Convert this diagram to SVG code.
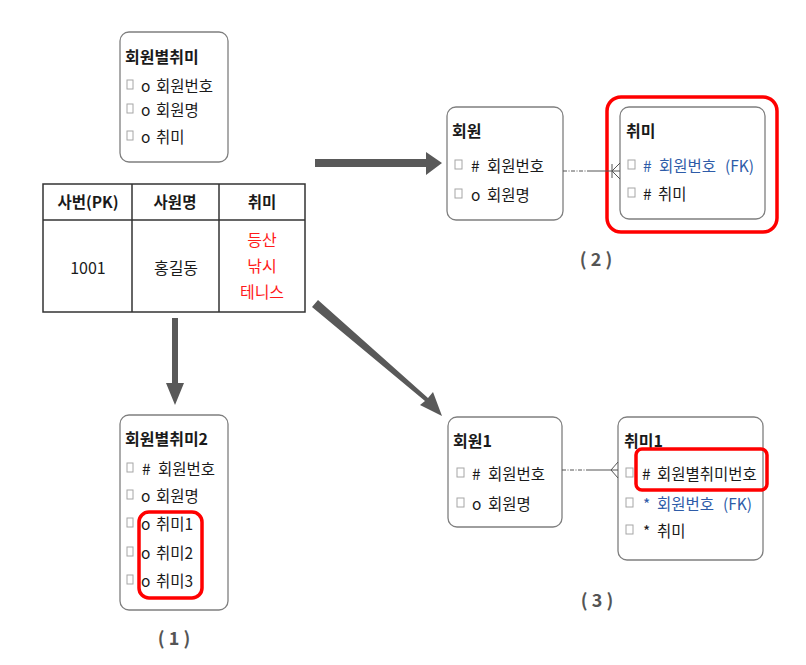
<svg xmlns="http://www.w3.org/2000/svg" width="806" height="665" viewBox="0 0 806 665">
<style>
text{font-family:"Noto Sans CJK KR","Noto Sans",sans-serif;fill:#1a1a1a}
.t{font-size:16px;font-weight:bold}
.r{font-size:15.5px}
.fk{fill:#2e5ca8}
.red{fill:#ff1a1a}
.box{fill:#fff;stroke:#7f7f7f;stroke-width:1.3}
.cb{fill:#fff;stroke:#a6a6a6;stroke-width:1}
.hl{fill:none;stroke:#f00;stroke-width:3.5}
.tbl{fill:none;stroke:#333;stroke-width:1.5}
.arr{fill:#595959}
.lbl{font-size:18px;font-weight:bold;fill:#555}
.th{font-size:15.5px;font-weight:bold;text-anchor:middle}
.td{font-size:16px;text-anchor:middle}
</style>

<g id="entity-hoewonbyeol-chwimi">
<rect class="box" x="120" y="32" width="108" height="130" rx="9"/>
<text class="t" x="125" y="63">회원별취미</text>
<rect class="cb" x="127" y="80" width="6" height="9"/><text class="r" x="141" y="92">o</text><text class="r" x="156" y="92">회원번호</text>
<rect class="cb" x="127" y="104" width="6" height="9"/><text class="r" x="141" y="116">o</text><text class="r" x="156" y="116">회원명</text>
<rect class="cb" x="127" y="131" width="6" height="9"/><text class="r" x="141" y="143">o</text><text class="r" x="156" y="143">취미</text>
</g>

<g id="table">
<rect class="tbl" x="43" y="184" width="262" height="128"/>
<line class="tbl" x1="43" y1="220" x2="305" y2="220"/>
<line class="tbl" x1="132" y1="184" x2="132" y2="312"/>
<line class="tbl" x1="219" y1="184" x2="219" y2="312"/>
<text class="th" x="88" y="208">사번(PK)</text>
<text class="th" x="175" y="208">사원명</text>
<text class="th" x="262" y="208">취미</text>
<text class="td" x="88" y="274">1001</text>
<text class="td" x="176" y="274">홍길동</text>
<text class="td red" x="262" y="246">등산</text>
<text class="td red" x="262" y="272">낚시</text>
<text class="td red" x="262" y="298">테니스</text>
</g>

<g id="entity-hoewon">
<rect class="box" x="447" y="107" width="116" height="113" rx="9"/>
<text class="t" x="452" y="137">회원</text>
<rect class="cb" x="455" y="160" width="7" height="9"/><text class="r" x="471" y="172">#</text><text class="r" x="487" y="172">회원번호</text>
<rect class="cb" x="455" y="189" width="7" height="9"/><text class="r" x="471" y="201">o</text><text class="r" x="487" y="201">회원명</text>
</g>

<g id="entity-chwimi">
<rect class="box" x="620" y="107" width="145" height="112" rx="9"/>
<rect class="hl" x="607" y="97" width="170" height="135" rx="14"/>
<text class="t" x="626" y="137">취미</text>
<rect class="cb" x="628" y="160" width="7" height="9"/><text class="r fk" x="643" y="172">#</text><text class="r fk" x="659" y="172">회원번호</text><text class="r fk" x="725" y="172">(FK)</text>
<rect class="cb" x="628" y="188" width="7" height="9"/><text class="r" x="643" y="200">#</text><text class="r" x="658" y="200">취미</text>
</g>
<text class="lbl" x="596" y="266" text-anchor="middle">( 2 )</text>

<g id="entity-hoewonbyeol-chwimi2">
<rect class="box" x="120" y="415" width="108" height="195" rx="9"/>
<text class="t" x="125" y="445">회원별취미2</text>
<rect class="cb" x="127" y="463" width="6" height="9"/><text class="r" x="142" y="475">#</text><text class="r" x="158" y="475">회원번호</text>
<rect class="cb" x="127" y="490" width="6" height="9"/><text class="r" x="141" y="502">o</text><text class="r" x="156" y="502">회원명</text>
<rect class="cb" x="127" y="518" width="6" height="9"/><text class="r" x="141" y="530">o</text><text class="r" x="156" y="530">취미1</text>
<rect class="cb" x="127" y="547" width="6" height="9"/><text class="r" x="141" y="559">o</text><text class="r" x="156" y="559">취미2</text>
<rect class="cb" x="127" y="575" width="6" height="9"/><text class="r" x="141" y="587">o</text><text class="r" x="156" y="587">취미3</text>
<rect class="hl" x="139" y="512" width="63" height="86" rx="10"/>
</g>
<text class="lbl" x="174" y="645" text-anchor="middle">( 1 )</text>

<g id="entity-hoewon1">
<rect class="box" x="448" y="417" width="114" height="110" rx="9"/>
<text class="t" x="453" y="447">회원1</text>
<rect class="cb" x="457" y="468" width="7" height="9"/><text class="r" x="472" y="480">#</text><text class="r" x="488" y="480">회원번호</text>
<rect class="cb" x="457" y="498" width="7" height="9"/><text class="r" x="472" y="510">o</text><text class="r" x="488" y="510">회원명</text>
</g>

<g id="entity-chwimi1">
<rect class="box" x="618" y="417" width="145" height="143" rx="9"/>
<text class="t" x="624" y="447">취미1</text>
<rect class="cb" x="626" y="468" width="7" height="9"/><text class="r" x="642" y="480">#</text><text class="r" x="657" y="480">회원별취미번호</text>
<rect class="cb" x="626" y="498" width="7" height="9"/><text class="r fk" x="643" y="510">*</text><text class="r fk" x="657" y="510">회원번호</text><text class="r fk" x="723" y="510">(FK)</text>
<rect class="cb" x="626" y="525" width="7" height="9"/><text class="r" x="643" y="537">*</text><text class="r" x="657" y="537">취미</text>
<rect class="hl" x="636" y="449" width="131" height="41" rx="6"/>
</g>
<text class="lbl" x="597" y="607" text-anchor="middle">( 3 )</text>

<g id="connectors">
<polygon class="arr" points="315,159 426,159 426,152 442,163 426,175 426,167 315,167"/>
<polygon class="arr" points="172,318 178,318 178,383 184,383 175,405 166,383 172,383"/>
<polygon class="arr" points="312,307 318,300 428,398 433,392 442,416 420,405 425,401"/>
<g fill="none" stroke="#555" stroke-width="1">
<line x1="563" y1="171" x2="590" y2="171" stroke-dasharray="4,1.5,1,1.5"/>
<line x1="590" y1="171" x2="620" y2="171"/>
<line x1="612" y1="164" x2="612" y2="178"/>
<polyline points="620,163 612,171 620,179"/>
<line x1="562" y1="470" x2="590" y2="470" stroke-dasharray="4,1.5,1,1.5"/>
<line x1="590" y1="470" x2="618" y2="470"/>
<polyline points="618,462 611,470 618,478"/>
</g>
</g>
</svg>
